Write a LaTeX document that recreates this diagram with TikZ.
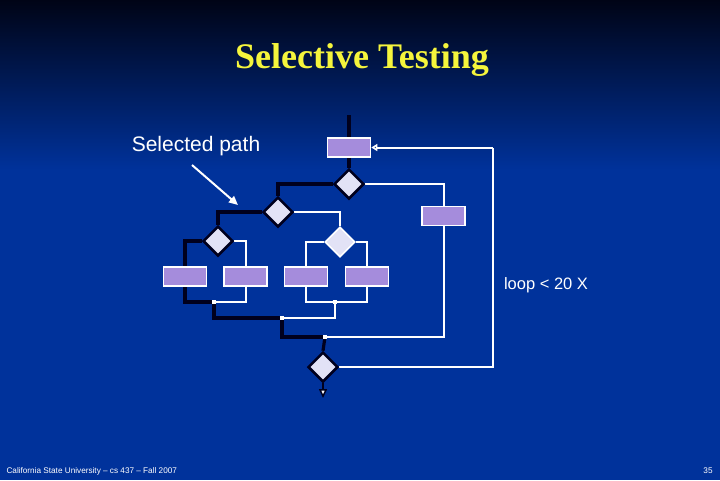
\documentclass[tikz,border=0pt]{standalone}
\usepackage{fontspec}
\setmainfont{Liberation Serif}
\setsansfont{Liberation Sans}
\usetikzlibrary{shapes.geometric,arrows.meta}
\definecolor{bgtop}{RGB}{0,4,22}
\definecolor{bgbot}{RGB}{0,50,155}
\definecolor{boxfill}{RGB}{165,140,220}
\definecolor{dmdfill}{RGB}{226,226,246}
\definecolor{dark}{RGB}{0,0,30}
\definecolor{titleyellow}{RGB}{245,245,60}
\pgfdeclarelayer{bgl}
\pgfdeclarelayer{lines}
\pgfsetlayers{bgl,lines,main}
\tikzset{
  procbox/.style={rectangle,draw=white,line width=1.6pt,fill=boxfill,minimum width=43pt,minimum height=19pt,inner sep=0pt},
  dmd/.style={diamond,draw=dark,line width=2.5pt,fill=dmdfill,minimum width=30pt,minimum height=30pt,inner sep=0pt},
  dmdw/.style={dmd,draw=white,line width=1.6pt},
  junc/.style={rectangle,fill=white,minimum size=4pt,inner sep=0pt},
  wline/.style={draw=white,line width=2pt},
  dline/.style={draw=dark,line width=3.2pt},
}
\begin{document}
\begin{tikzpicture}[x=1pt,y=-1pt]
\begin{pgfonlayer}{bgl}
\fill[bgbot] (0,0) rectangle (720,480);
\shade[top color=bgtop,bottom color=bgbot] (0,0) rectangle (720,170);
\end{pgfonlayer}
\useasboundingbox (0,0) rectangle (720,480);
\node[text=titleyellow,font=\bfseries\fontsize{36}{40}\selectfont] (title) at (362,60) {Selective Testing};
\node[text=white,font=\sffamily\fontsize{21}{24}\selectfont] (sp) at (196,146) {Selected path};
\node[text=white,font=\sffamily\fontsize{16.5}{19}\selectfont] (loop) at (546,285) {loop < 20 X};
\node[text=white,font=\sffamily\fontsize{8.2}{9}\selectfont,anchor=west] (foot) at (3,471) {California State University -- cs 437 -- Fall 2007};
\node[text=white,font=\sffamily\fontsize{8.2}{9}\selectfont] (pg) at (708,471) {35};
% nodes
\node[procbox] (b0) at (349,147.5) {};
\node[dmd] (d1) at (349,184) {};
\node[procbox] (bR) at (443.5,216) {};
\node[dmd] (d2) at (278,212) {};
\node[dmdw] (d4) at (340,242) {};
\node[dmd] (d3) at (218,241) {};
\node[procbox] (b1) at (185,276.5) {};
\node[procbox] (b2) at (245.5,276.5) {};
\node[procbox] (b3) at (306,276.5) {};
\node[procbox] (b4) at (367,276.5) {};
\node[dmd] (d5) at (323,367) {};
\node[junc] (j1) at (214,302) {};
\node[junc] (j2) at (282,318) {};
\node[junc] (j3) at (335,302) {};
\node[junc] (j4) at (325,337) {};
\coordinate (start) at (349,115);
\coordinate (lp) at (493,147.5);
\coordinate (endp) at (323,398);
\coordinate (spa) at (192,165);
\coordinate (spb) at (238,205);
\begin{pgfonlayer}{lines}
% white lines
\draw[wline] (d1.east) -| (bR.north);
\draw[wline] (bR.south) |- (j4.center);
\draw[wline] (d2.east) -| (d4.north);
\draw[wline] (d3.east) -| (b2.north);
\draw[wline] (d4.west) -| (b3.north);
\draw[wline] (d4.east) -| (b4.north);
\draw[wline] (b2.south) |- (j1.center);
\draw[wline] (b3.south) |- (j3.center);
\draw[wline] (b4.south) |- (j3.center);
\draw[wline] (j3.center) |- (j2.center);
\draw[wline] (d5.east) -| (lp);
\draw[wline,-{Triangle[open,length=6pt,width=7pt]}] (lp) -- (b0.east);
\draw[white,line width=2pt,-{Triangle[length=9pt,width=8pt]}] (spa) -- (spb);
% dark lines
\draw[dline] (start) -- (b0.north);
\draw[dline] (b0.south) -- (d1.north);
\draw[dline] (d1.west) -| (d2.north);
\draw[dline] (d2.west) -| (d3.north);
\draw[dline] (d3.west) -| (b1.north);
\draw[dline] (b1.south) |- (j1.center);
\draw[dline] (j1.center) |- (j2.center);
\draw[dline] (j2.center) |- (j4.center);
\draw[dline] (j4.center) -- (d5.north);
\draw[dark,line width=1.5pt,-{Triangle[length=9pt,width=8pt,fill=white]}] (d5.south) -- (endp);
\end{pgfonlayer}
\end{tikzpicture}
\end{document}
